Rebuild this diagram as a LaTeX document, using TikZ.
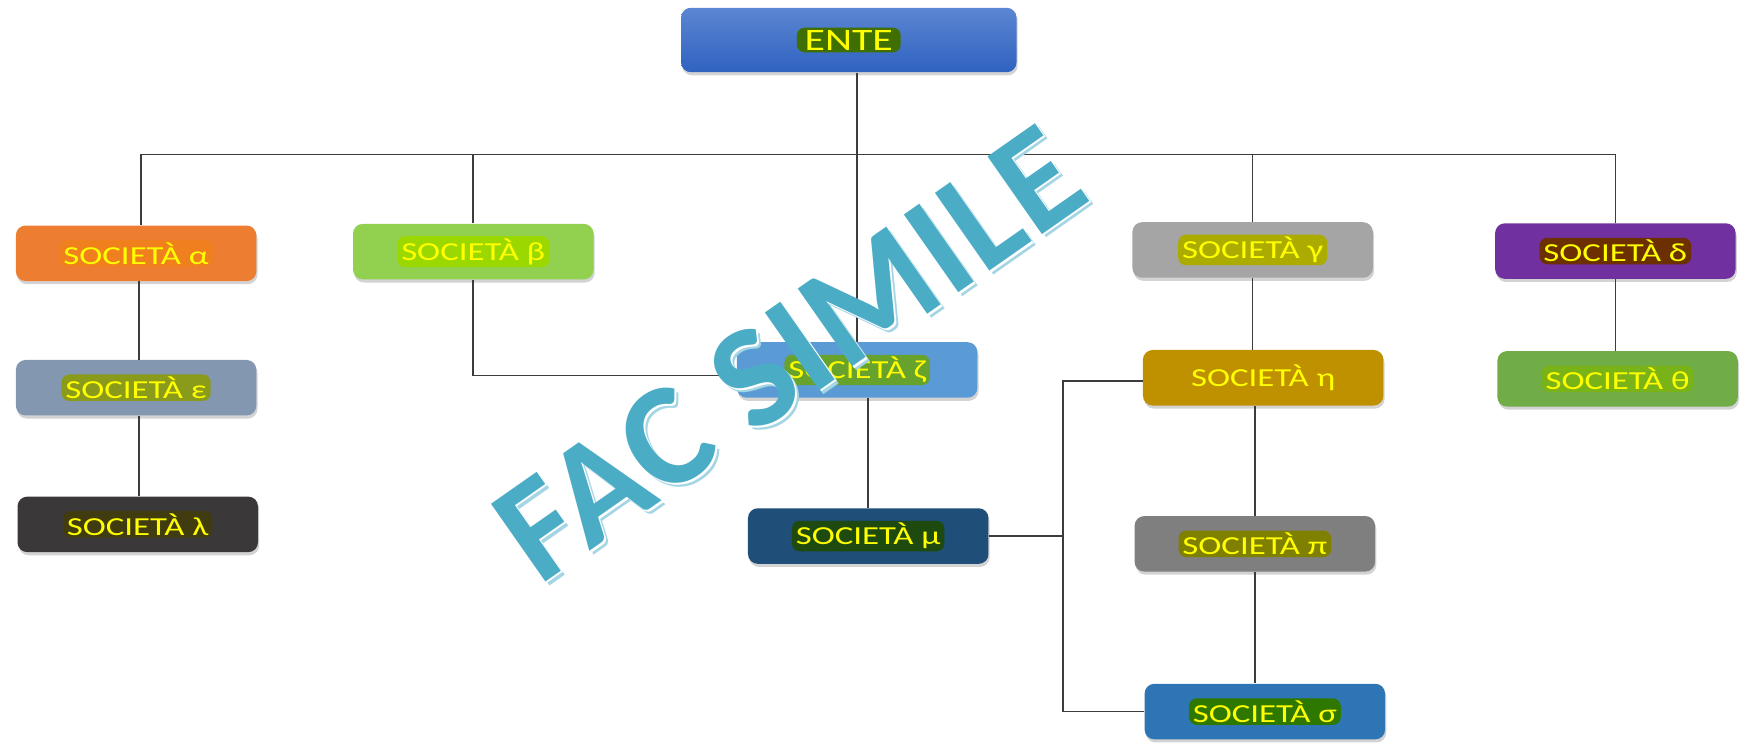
\documentclass[tikz,border=0pt]{standalone}
\usepackage{fontspec}
\setmainfont{Carlito}
\newfontfamily\boxfont[FakeStretch=1.34]{Carlito}
\newfontfamily\wmfont[LetterSpace=1]{Carlito}
\usetikzlibrary{shadows,calc}
\definecolor{lnc}{HTML}{3C3C3C}
\definecolor{cAlpha}{HTML}{ED7D31}
\definecolor{hAlpha}{HTML}{F07F1E}
\definecolor{cBeta}{HTML}{92D050}
\definecolor{hBeta}{HTML}{9AD800}
\definecolor{cZeta}{HTML}{5B9BD5}
\definecolor{hZeta}{HTML}{67A22C}
\definecolor{cGamma}{HTML}{A5A5A5}
\definecolor{hGamma}{HTML}{ABAB00}
\definecolor{cDelta}{HTML}{7030A0}
\definecolor{hDelta}{HTML}{6B2F00}
\definecolor{cEps}{HTML}{8497B0}
\definecolor{hEps}{HTML}{8A9A1A}
\definecolor{cLam}{HTML}{3A3838}
\definecolor{hLam}{HTML}{403C10}
\definecolor{cMu}{HTML}{1F4E79}
\definecolor{hMu}{HTML}{1E4A10}
\definecolor{cEta}{HTML}{BF9000}
\definecolor{cPi}{HTML}{7F7F7F}
\definecolor{hPi}{HTML}{808000}
\definecolor{cSig}{HTML}{2E75B6}
\definecolor{hSig}{HTML}{2E7800}
\definecolor{cTheta}{HTML}{70AD47}
\definecolor{hTheta}{HTML}{7AB317}
\definecolor{hEnte}{HTML}{3F6F00}
\definecolor{enteTop}{HTML}{5B86D2}
\definecolor{enteBot}{HTML}{2F62C0}
\definecolor{wmMain}{HTML}{4BACC6}
\definecolor{wmShadow}{HTML}{A3D5E4}
\definecolor{txtY}{HTML}{FFFF00}
\tikzset{
  orgbox/.style={rounded corners=5pt, minimum width=4.33cm, minimum height=1.0cm,
    inner sep=0pt, drop shadow={shadow xshift=0.6pt, shadow yshift=-1.6pt, opacity=0.35}},
  hltext/.style={rounded corners=4pt, inner xsep=2pt, inner ysep=1.2pt, text=txtY,
    font=\boxfont\fontsize{13.3pt}{15pt}\selectfont},
  conn/.style={draw=lnc, line width=0.8pt},
  wmark/.style={rotate=35, inner sep=0pt, font=\wmfont\bfseries\fontsize{75pt}{80pt}\selectfont}
}
\begin{document}
\begin{tikzpicture}[x=0.02cm, y=-0.02cm]
\useasboundingbox (0,0) rectangle (1568,672);
% boxes
\node[orgbox, minimum width=6.04cm, minimum height=1.16cm, top color=enteTop, bottom color=enteBot] (ente) at (764,36) {};
\node[orgbox, fill=cAlpha] (alpha) at (122.5,228) {};
\node[orgbox, fill=cBeta] (beta) at (426,226.5) {};
\node[orgbox, fill=cZeta] (zeta) at (771.5,333) {};
\node[orgbox, fill=cGamma] (gamma) at (1127.5,225) {};
\node[orgbox, fill=cDelta] (delta) at (1454,226) {};
\node[orgbox, fill=cEps] (eps) at (122.5,349) {};
\node[orgbox, fill=cLam] (lam) at (124,472) {};
\node[orgbox, fill=cMu] (mu) at (781.5,482.5) {};
\node[orgbox, fill=cEta] (eta) at (1137,340) {};
\node[orgbox, fill=cPi] (pi) at (1129.5,489.5) {};
\node[orgbox, fill=cSig] (sig) at (1138.5,640.5) {};
\node[orgbox, fill=cTheta] (theta) at (1456,341) {};
% texts
\node[hltext, fill=hEnte, font=\boxfont\fontsize{16pt}{18pt}\selectfont, inner xsep=4pt] (ente-t) at (ente) {ENTE};
\node[hltext, fill=hAlpha] (alpha-t) at (alpha) {SOCIETÀ α};
\node[hltext, fill=hBeta] (beta-t) at (beta) {SOCIETÀ β};
\node[hltext, fill=hGamma] (gamma-t) at (gamma) {SOCIETÀ γ};
\node[hltext, fill=hDelta] (delta-t) at (delta) {SOCIETÀ δ};
\node[hltext, fill=hEps] (eps-t) at (eps) {SOCIETÀ ε};
\node[hltext, fill=hLam] (lam-t) at (lam) {SOCIETÀ λ};
\node[hltext, fill=hMu] (mu-t) at (mu) {SOCIETÀ μ};
\node[hltext] (eta-t) at (eta) {SOCIETÀ η};
\node[hltext, fill=hPi] (pi-t) at (pi) {SOCIETÀ π};
\node[hltext, fill=hSig] (sig-t) at (sig) {SOCIETÀ σ};
\node[hltext, fill=hTheta] (theta-t) at (theta) {SOCIETÀ θ};
\node[hltext, fill=hZeta] (zeta-t) at (zeta) {SOCIETÀ ζ};
% connectors
\coordinate (bar) at (771,139);
\coordinate (jn) at (957,482.5);
\draw[conn] (ente.south -| zeta.north) -- (zeta.north);
\draw[conn] ([xshift=2.5pt]alpha.north) |- (bar) -| (delta.north);
\draw[conn] (beta.north) -- (beta.north |- bar);
\draw[conn] (gamma.north) -- (gamma.north |- bar);
\draw[conn] ([xshift=1.4pt]alpha.south) -- ([xshift=1.4pt]eps.north);
\draw[conn] ([xshift=1.4pt]eps.south) -- ([xshift=1.4pt]eps.south |- lam.north);
\draw[conn] (beta.south) |- ([yshift=-2.8pt]zeta.west);
\draw[conn] (mu.north |- zeta.south) -- (mu.north);
\draw[conn] (gamma.south) -- (gamma.south |- eta.north);
\draw[conn] (pi.north |- eta.south) -- (pi.north);
\draw[conn] (pi.south) -- (pi.south |- sig.north);
\draw[conn] (delta.south) -- (delta.south |- theta.north);
\draw[conn] (mu.east) -- (jn);
\draw[conn] ([yshift=-1.7pt]eta.west) -| (jn) |- (sig.west);
% watermark
\node[wmark, text=wmShadow] (wm-s) at (714.5,321.5) {FAC SIMILE};
\node[wmark, text=white] (wm-w) at (712.5,319.5) {FAC SIMILE};
\node[wmark, text=wmMain] (wm) at (711,318) {FAC SIMILE};
\end{tikzpicture}
\end{document}
